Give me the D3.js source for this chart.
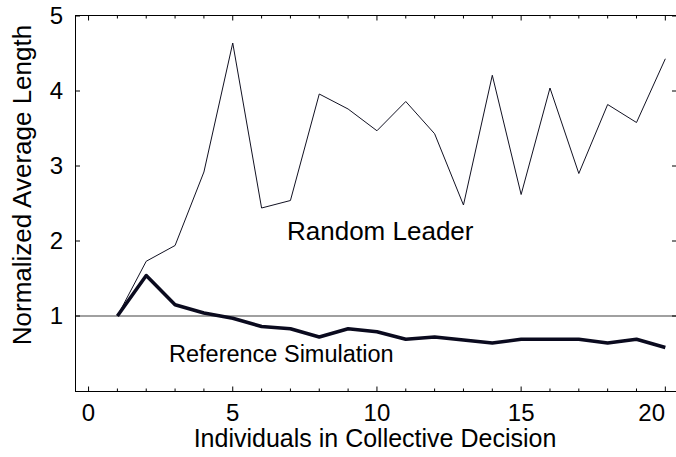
<!DOCTYPE html>
<html>
<head>
<meta charset="utf-8">
<script src="https://cdn.jsdelivr.net/npm/d3@7"></script>
<style>
  html, body { margin: 0; padding: 0; background: #fff; }
  svg text { font-family: "Liberation Sans", Arial, Helvetica, sans-serif; fill: #000; }
</style>
</head>
<body>
<svg id="chart" width="676" height="457"></svg>
<script>
// ---- data ----
const individuals = [1,2,3,4,5,6,7,8,9,10,11,12,13,14,15,16,17,18,19,20];
const randomLeader = [1.00,1.73,1.94,2.92,4.64,2.44,2.54,3.96,3.76,3.47,3.86,3.43,2.48,4.21,2.62,4.04,2.90,3.82,3.58,4.43];
const referenceSim = [1.00,1.54,1.15,1.04,0.97,0.86,0.83,0.72,0.83,0.79,0.69,0.72,0.68,0.64,0.69,0.69,0.69,0.64,0.69,0.58];
const xTicks = [0,5,10,15,20];
const xMinorTicks = d3.range(0,21);
const yTicks = [1,2,3,4,5];
const baselineValue = 1;

(function () {
const svg = d3.select("#chart");
const pL = 75, pR = 676, pT = 16, pB = 391;
const x = d3.scaleLinear().domain([-0.47, 20.37]).range([pL, pR]);
const y = d3.scaleLinear().domain([0, 5]).range([pB, pT]);

// baseline at 1
svg.append("line")
  .attr("x1", pL).attr("x2", pR)
  .attr("y1", y(baselineValue)).attr("y2", y(baselineValue))
  .attr("stroke", "#808080").attr("stroke-width", 1.6);

// frame: left, top, bottom
const frame = svg.append("g").attr("stroke", "#000").attr("stroke-width", 1).attr("fill", "none");
frame.append("line").attr("x1", pL+0.5).attr("x2", pL+0.5).attr("y1", pT).attr("y2", pB+1);
frame.append("line").attr("x1", pL).attr("x2", pR).attr("y1", pT-0.5).attr("y2", pT-0.5);
frame.append("line").attr("x1", pL).attr("x2", pR).attr("y1", pB+0.5).attr("y2", pB+0.5);

// x ticks (bottom, pointing up; top pointing down)
xMinorTicks.forEach(v => {
  const major = xTicks.includes(v);
  const len = major ? 5 : 3;
  svg.append("line").attr("x1", x(v)).attr("x2", x(v))
    .attr("y1", pB+0.5).attr("y2", pB+0.5-len).attr("stroke", "#000").attr("stroke-width", 1);
  svg.append("line").attr("x1", x(v)).attr("x2", x(v))
    .attr("y1", pT-0.5).attr("y2", pT-0.5+len).attr("stroke", "#000").attr("stroke-width", 1);
});
// y ticks (left pointing right; right pointing left)
yTicks.forEach(v => {
  svg.append("line").attr("x1", pL).attr("x2", pL+5)
    .attr("y1", y(v)).attr("y2", y(v)).attr("stroke", "#000").attr("stroke-width", 1);
  svg.append("line").attr("x1", pR).attr("x2", pR-4)
    .attr("y1", y(v)).attr("y2", y(v)).attr("stroke", "#000").attr("stroke-width", 1);
});

// tick labels
svg.append("g").selectAll("text").data(xTicks).join("text")
  .attr("y", 421)
  .attr("text-anchor", "middle").attr("font-size", 24)
  .text(d => d)
  .attr("x", function (d) {
    const half = this.getComputedTextLength() / 2;
    return Math.min(x(d), 665 - half);
  });
svg.append("g").selectAll("text").data(yTicks).join("text")
  .attr("x", 63).attr("y", d => y(d)).attr("dy", "0.35em")
  .attr("text-anchor", "end").attr("font-size", 24)
  .text(d => d);

// lines
const line = (vals) => d3.line().x((d,i) => x(individuals[i])).y(d => y(d))(vals);
svg.append("path").attr("d", line(randomLeader))
  .attr("fill", "none").attr("stroke", "#111122").attr("stroke-width", 1)
  .attr("stroke-linejoin", "miter");
svg.append("path").attr("d", line(referenceSim))
  .attr("fill", "none").attr("stroke", "#0a0a1e").attr("stroke-width", 3.5)
  .attr("stroke-linejoin", "round");

// annotations
svg.append("text").attr("x", 287).attr("y", 240).attr("font-size", 26).text("Random Leader");
svg.append("text").attr("x", 169).attr("y", 362).attr("font-size", 23.5).text("Reference Simulation");

// axis labels
svg.append("text").attr("x", 375).attr("y", 447).attr("text-anchor", "middle")
  .attr("font-size", 25).text("Individuals in Collective Decision");
svg.append("text").attr("transform", "translate(31,185) rotate(-90)")
  .attr("text-anchor", "middle").attr("font-size", 26).text("Normalized Average Length");
})();
</script>
</body>
</html>
